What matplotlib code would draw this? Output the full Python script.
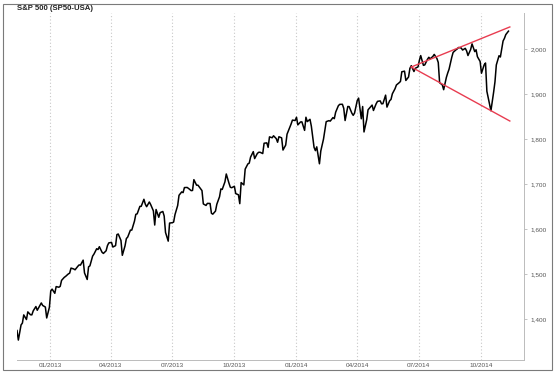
import matplotlib
matplotlib.use("Agg")
import matplotlib.pyplot as plt
import matplotlib.dates as mdates
from matplotlib.ticker import FuncFormatter
from matplotlib.patches import Rectangle
import pandas as pd

# S&P 500 closes, every other business day from 13 Nov 2012
start_date = "2012-11-13"
close_2012 = [
    1374.5, 1353.3, 1386.9, 1391.0, 1409.2, 1398.9, 1415.9, 1409.5, 1409.3, 1418.1,
    1427.8, 1419.5, 1430.4, 1435.8, 1430.2, 1426.7, 1402.4, 1426.2,
]
close_2013 = [
    1462.4, 1466.5, 1457.2, 1472.1, 1470.7, 1472.6, 1485.9, 1492.6, 1494.8, 1500.2,
    1502.0, 1513.2, 1511.3, 1509.4, 1517.0, 1520.3, 1519.8, 1530.9, 1502.4, 1487.9,
    1516.0, 1518.2, 1539.8, 1544.3, 1556.2, 1554.5, 1560.7, 1548.3, 1545.8, 1551.7,
    1563.2, 1569.2, 1570.3, 1560.0, 1563.1, 1587.7, 1588.9, 1574.6, 1541.6, 1562.5,
    1578.8, 1582.2, 1597.6, 1597.6, 1617.5, 1632.7, 1633.7, 1650.3, 1650.5, 1666.1,
    1655.4, 1649.6, 1660.1, 1654.4, 1640.4, 1608.9, 1643.4, 1626.1, 1636.4, 1639.0,
    1628.9, 1592.4, 1573.1, 1613.2, 1614.1, 1615.4, 1631.9, 1652.3, 1675.0, 1682.5,
    1680.9, 1692.1, 1692.4, 1690.3, 1685.3, 1685.7, 1709.7, 1697.4, 1697.5, 1689.5,
    1685.4, 1655.8, 1652.4, 1657.0, 1656.8, 1635.0, 1633.0, 1639.8, 1655.1, 1671.7,
    1689.1, 1688.0, 1704.8, 1722.3, 1701.8, 1692.8, 1691.8, 1695.0, 1678.7, 1676.1,
    1656.4, 1703.2, 1698.1, 1733.2, 1744.7, 1746.4, 1759.8, 1772.0, 1756.5, 1767.9,
    1770.5, 1770.6, 1767.7, 1790.6, 1791.5, 1781.4, 1804.8, 1802.8, 1807.2, 1800.9,
    1792.8, 1805.1, 1802.6, 1775.5, 1786.5, 1810.7, 1818.3, 1833.3, 1842.0, 1841.1,
]
close_2014 = [
    1848.4, 1831.4, 1837.9, 1838.1, 1819.2, 1848.4, 1838.7, 1843.8, 1828.5, 1781.6,
    1774.2, 1782.6, 1745.0, 1773.4, 1799.8, 1819.3, 1838.6, 1840.8, 1839.8, 1847.6,
    1845.2, 1859.5, 1873.9, 1877.0, 1877.2, 1868.2, 1841.1, 1872.3, 1872.0, 1857.4,
    1852.6, 1857.6, 1885.5, 1890.9, 1845.0, 1872.2, 1815.7, 1843.0, 1864.9, 1871.9,
    1875.4, 1863.4, 1878.3, 1883.7, 1884.7, 1878.2, 1878.5, 1897.5, 1870.9, 1885.1,
    1888.0, 1900.5, 1911.9, 1920.0, 1925.0, 1927.9, 1949.4, 1950.8, 1930.1, 1937.8,
    1957.0, 1962.9, 1950.0, 1957.2, 1960.2, 1974.6, 1985.4, 1963.7, 1964.7, 1977.1,
    1981.6, 1978.2, 1983.5, 1988.0, 1978.9, 1970.1, 1925.2, 1920.2, 1909.6, 1936.9,
    1946.7, 1955.1, 1981.6, 1992.4, 1997.9, 2000.1, 2003.4, 2002.3, 1997.7, 2001.5,
    1995.7, 1985.5, 1999.0, 2011.4, 1994.3, 1998.3, 1982.9, 1972.3, 1946.2, 1964.8,
    1968.9, 1906.1, 1877.7, 1862.8, 1904.0, 1927.1, 1964.6, 1985.1, 1982.3, 2017.8,
    2023.6, 2031.9, 2039.7,
]

# broadening triangle drawn on the chart
wedge_dates = ["2014-06-20", "2014-11-13"]
wedge_upper = [1960, 2049]
wedge_lower = [1960, 1840]

y_ticks = [1400, 1500, 1600, 1700, 1800, 1900, 2000]
x_ticks = ["2013-01-01", "2013-04-01", "2013-07-01", "2013-10-01",
           "2014-01-01", "2014-04-01", "2014-07-01", "2014-10-01"]

closes = close_2012 + close_2013 + close_2014
dates = pd.bdate_range(start_date, periods=len(closes), freq="2B")

plt.rcParams['font.family'] = ['Liberation Sans', 'DejaVu Sans']

W, H = 557, 374
fig = plt.figure(figsize=(W / 100, H / 100), dpi=100)
ax = fig.add_axes([17 / W, 1 - 360 / H, (524 - 17) / W, (360 - 13) / H])

ax.plot(dates, closes, color='black', lw=1.1, solid_joinstyle='round')
ax.plot(pd.to_datetime(wedge_dates), wedge_upper, color='#e83c50', lw=1.0)
ax.plot(pd.to_datetime(wedge_dates), wedge_lower, color='#e83c50', lw=1.0)

ax.set_xlim(pd.Timestamp("2012-11-13"), pd.Timestamp("2014-12-04"))
ax.set_ylim(1309, 2080)

ax.set_xticks(pd.to_datetime(x_ticks))
ax.xaxis.set_major_formatter(mdates.DateFormatter("%m/%Y"))
ax.set_yticks(y_ticks)
ax.yaxis.set_major_formatter(FuncFormatter(lambda v, p: f"{int(v):,}"))
ax.yaxis.tick_right()

ax.tick_params(axis='x', length=0, pad=2.5, labelsize=4.6, labelcolor='#555555')
ax.tick_params(axis='y', length=2, width=0.5, color='#aaaaaa', pad=2.5,
               labelsize=4.6, labelcolor='#555555')

ax.grid(axis='x', color='#c8c8c8', linestyle=(0, (1, 2)), lw=0.8)
for s in ['left', 'top']:
    ax.spines[s].set_visible(False)
for s in ['right', 'bottom']:
    ax.spines[s].set_color('#bbbbbb')
    ax.spines[s].set_linewidth(0.7)

fig.text(17 / W, 1 - 9 / H, "S&P 500 (SP50-USA)", fontsize=5.6, fontweight='bold',
         color='#222222', va='center', ha='left')

fig.patches.append(Rectangle((3 / W, 1 - 370 / H), 549 / W, 366 / H,
                             transform=fig.transFigure, fill=False,
                             edgecolor='#7a7a7a', lw=0.8))

fig.savefig("out.png", dpi=100)
